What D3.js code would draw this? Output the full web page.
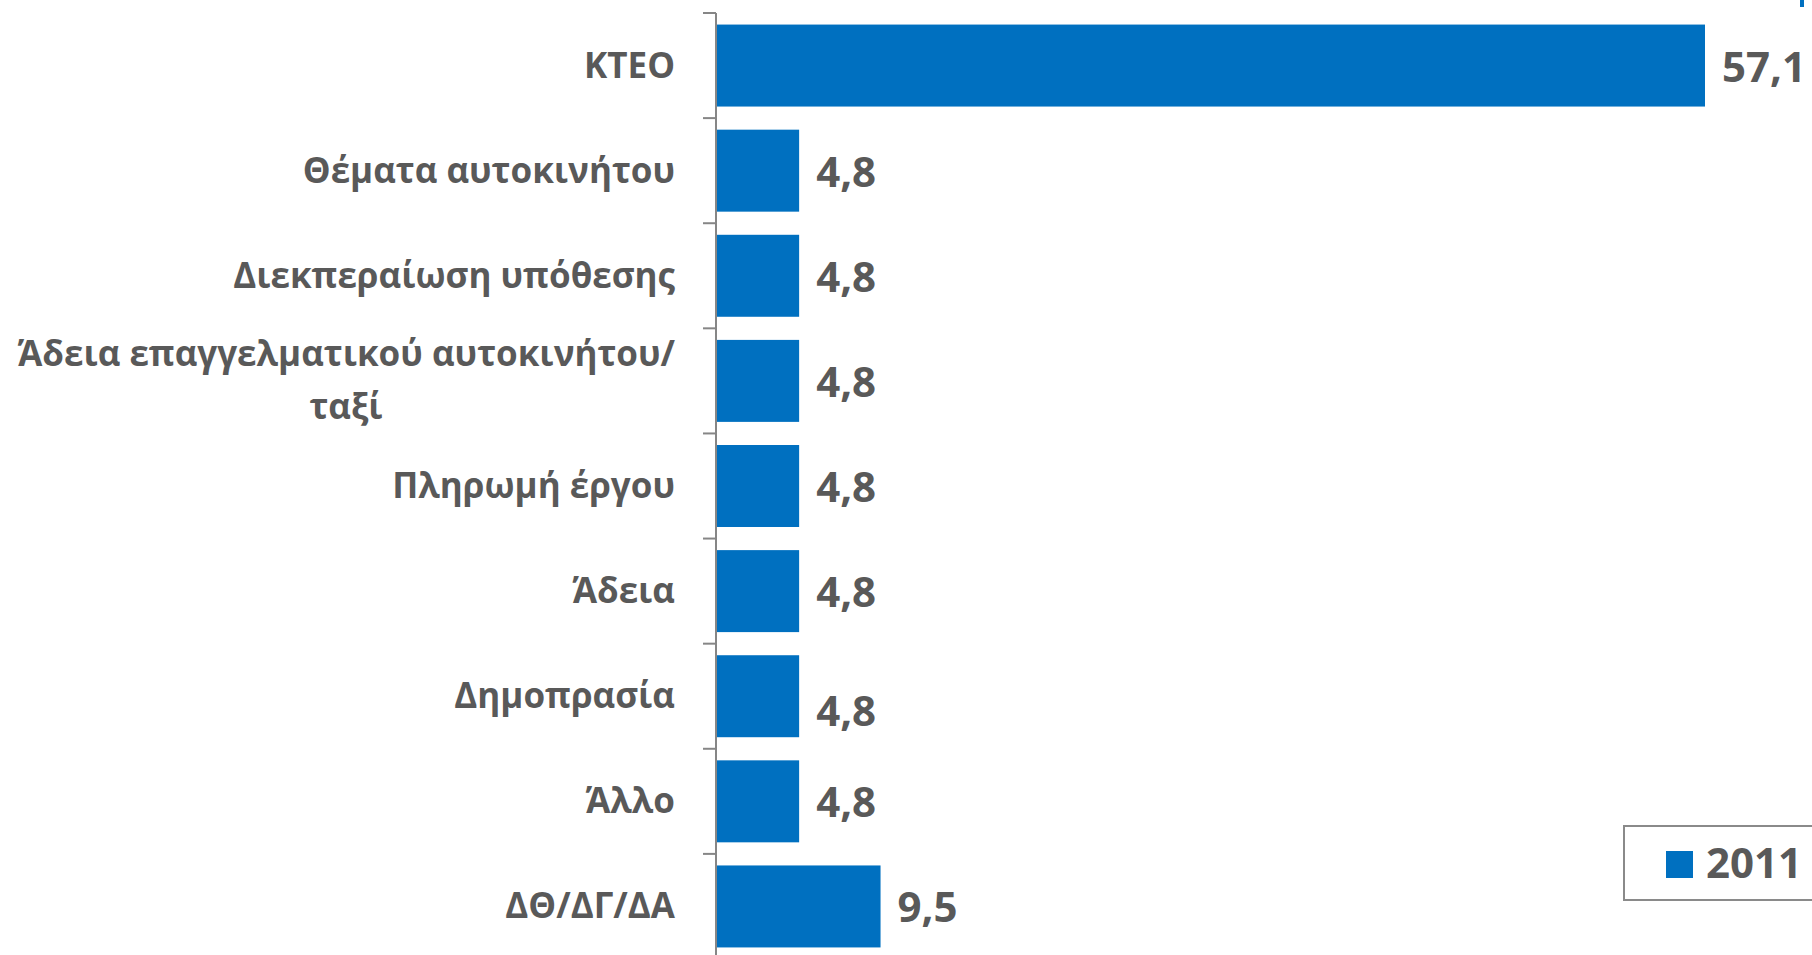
<!DOCTYPE html>
<html>
<head>
<meta charset="utf-8">
<script src="https://cdn.jsdelivr.net/npm/d3@7"></script>
<style>
  html, body { margin: 0; padding: 0; background: #ffffff; }
  svg { display: block; }
  text { font-family: "Open Sans", "Noto Sans", sans-serif; font-weight: 700; }
</style>
</head>
<body>
<svg id="chart" width="1812" height="955"></svg>
<script>
// Categories (top to bottom) and their percentages for 2011
const categories = [
  "ΚΤΕΟ",
  "Θέματα αυτοκινήτου",
  "Διεκπεραίωση υπόθεσης",
  "Άδεια επαγγελματικού αυτοκινήτου/ ταξί",
  "Πληρωμή έργου",
  "Άδεια",
  "Δημοπρασία",
  "Άλλο",
  "ΔΘ/ΔΓ/ΔΑ"
];
const values2011 = [57.1, 4.8, 4.8, 4.8, 4.8, 4.8, 4.8, 4.8, 9.5];
const seriesName = "2011";

const barColor = "#0070C0";
const textColor = "#595959";
const axisColor = "#868686";

const svg = d3.select("#chart");

const x = d3.scaleLinear().domain([0, 57.1]).range([716, 1705]);
const y = d3.scaleBand()
  .domain(categories)
  .range([13, 959])
  .paddingInner(0.22)
  .paddingOuter(0.11);

const fmt = v => d3.format(".1f")(v).replace(".", ",");

// Bars
svg.append("g").selectAll("rect")
  .data(categories)
  .join("rect")
  .attr("x", x(0))
  .attr("y", d => y(d))
  .attr("width", (d, i) => x(values2011[i]) - x(0))
  .attr("height", y.bandwidth())
  .attr("fill", barColor);

// Category axis: vertical line with ticks between bands
const axisG = svg.append("g");
axisG.append("line")
  .attr("x1", 716).attr("x2", 716)
  .attr("y1", 13).attr("y2", 955)
  .attr("stroke", axisColor).attr("stroke-width", 2);
const step = y.step();
axisG.selectAll("line.tick")
  .data(d3.range(categories.length + 1))
  .join("line")
  .attr("class", "tick")
  .attr("x1", 703).attr("x2", 716)
  .attr("y1", i => 13 + i * step)
  .attr("y2", i => 13 + i * step)
  .attr("stroke", axisColor).attr("stroke-width", 2);

// Category labels (long ones wrap after the slash)
const labelG = svg.append("g");
categories.forEach(c => {
  const cy = y(c) + y.bandwidth() / 2;
  const lines = c.split("/ ");
  const t = labelG.append("text")
    .attr("text-anchor", "end")
    .attr("fill", textColor)
    .attr("font-size", 35);
  if (lines.length === 1) {
    t.append("tspan").attr("x", 675).attr("y", cy + 12).text(c);
  } else {
    t.append("tspan").attr("x", 675).attr("y", cy - 15).text(lines[0] + "/");
    t.append("tspan").attr("x", 346).attr("y", cy + 38).text(lines[1]).attr("text-anchor", "middle");
  }
});

// Value labels
const labelNudge = { "Δημοπρασία": 14 };
svg.append("g").selectAll("text")
  .data(categories)
  .join("text")
  .attr("x", (d, i) => x(values2011[i]) + 17)
  .attr("y", d => y(d) + y.bandwidth() / 2 + 16 + (labelNudge[d] || 0))
  .attr("fill", textColor)
  .attr("font-size", 42)
  .text((d, i) => fmt(values2011[i]));

// Legend
const lg = svg.append("g");
lg.append("rect")
  .attr("x", 1624).attr("y", 826)
  .attr("width", 200).attr("height", 74)
  .attr("fill", "#ffffff")
  .attr("stroke", "#8a8a8a").attr("stroke-width", 2);
lg.append("rect")
  .attr("x", 1666).attr("y", 851)
  .attr("width", 27).attr("height", 27)
  .attr("fill", barColor);
lg.append("text")
  .attr("x", 1706).attr("y", 878)
  .attr("fill", textColor)
  .attr("font-size", 42)
  .text(seriesName);

// Edge fragment at the top-right corner
svg.append("rect")
  .attr("x", 1800).attr("y", 0)
  .attr("width", 4).attr("height", 7)
  .attr("fill", barColor);
</script>
</body>
</html>
